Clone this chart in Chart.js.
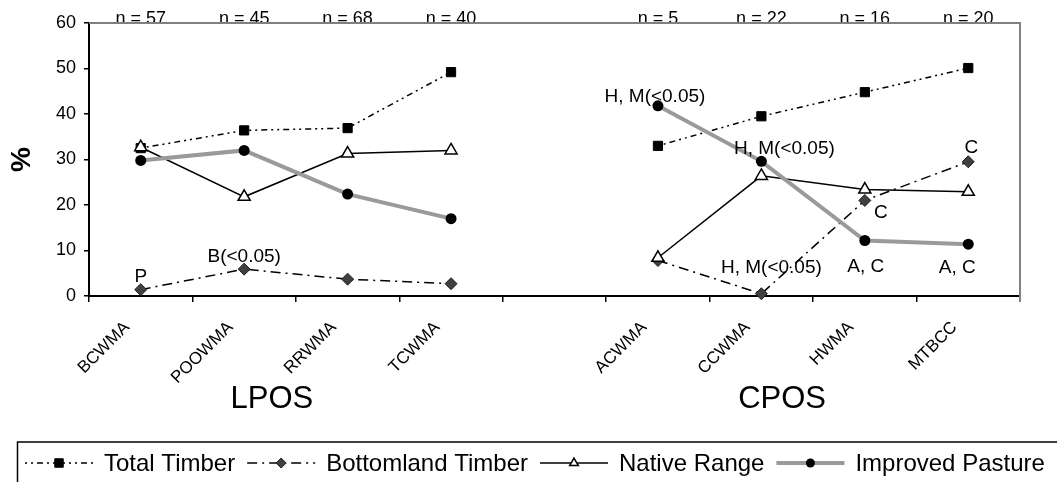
<!DOCTYPE html>
<html><head><meta charset="utf-8">
<script src="https://cdn.jsdelivr.net/npm/chart.js@4"></script>
<style>html,body{margin:0;padding:0;background:#fff;} #wrap{width:1057px;height:482px;position:relative;}</style>
</head><body><div id="wrap"><canvas id="c" width="1057" height="482"></canvas></div>
<script>
// ---------- data ----------
const categories = ['BCWMA','POOWMA','RRWMA','TCWMA','','ACWMA','CCWMA','HWMA','MTBCC'];
const sampleSizes = ['n = 57','n = 45','n = 68','n = 40','','n = 5','n = 22','n = 16','n = 20'];
const groupNames = ['LPOS','CPOS'];
const groupCenters = [1.5, 6.5];
const yTicks = [0,10,20,30,40,50,60];
const seriesNames = ['Total Timber','Bottomland Timber','Native Range','Improved Pasture'];
const totalTimber      = [32.5, 36.4, 36.9, 49.2, null, 33.0, 39.5, 44.8, 50.1];
const bottomlandTimber = [1.4,  5.9,  3.7,  2.7,  null, 7.8,  0.5,  21.0, 29.5];
const nativeRange      = [32.7, 21.8, 31.3, 32.0, null, 8.4,  26.4, 23.4, 22.9];
const improvedPasture  = [29.8, 32.0, 22.4, 17.0, null, 41.8, 29.6, 12.2, 11.4];
const noteTexts  = ['P','B(<0.05)','H, M(<0.05)','H, M(<0.05)','H, M(<0.05)','C','C','A, C','A, C'];
const noteSeries = [1, 1, 3, 3, 1, 1, 1, 3, 3];
const noteCats   = [0, 1, 5, 6, 6, 7, 8, 7, 8];

// ---------- layout / style ----------
const FONT = "'Liberation Sans', Arial, Helvetica, sans-serif";
const noteOffsets = [[0,-14],[0,-13],[-3,-10],[23,-14],[10,-27],[16,11],[3,-15],[1,25],[-11,23]];
const groupOffsets = [-24, -31];

Chart.defaults.font.family = FONT;
Chart.defaults.color = '#000';

function marker(ctx, style, x, y, r, fill, stroke, lw){
  ctx.save();
  ctx.setLineDash([]);
  ctx.fillStyle = fill; ctx.strokeStyle = stroke; ctx.lineWidth = lw;
  ctx.beginPath();
  if (style === 'rect'){ const s = r*Math.SQRT1_2; ctx.rect(x-s, y-s, 2*s, 2*s); }
  else if (style === 'rectRot'){ ctx.moveTo(x-r,y); ctx.lineTo(x,y-r); ctx.lineTo(x+r,y); ctx.lineTo(x,y+r); ctx.closePath(); }
  else if (style === 'triangle'){
    let a = 0; ctx.moveTo(x+Math.sin(a)*r, y-Math.cos(a)*r);
    a += 2*Math.PI/3; ctx.lineTo(x+Math.sin(a)*r, y-Math.cos(a)*r);
    a += 2*Math.PI/3; ctx.lineTo(x+Math.sin(a)*r, y-Math.cos(a)*r); ctx.closePath();
  } else { ctx.arc(x, y, r, 0, Math.PI*2); }
  ctx.fill(); if (lw>0) ctx.stroke();
  ctx.restore();
}

const decor = {
  id: 'decor',
  beforeDatasetsDraw(chart){
    const {ctx, chartArea:a, scales:{x}} = chart;
    ctx.save();
    // sample sizes
    ctx.font = '18px ' + FONT; ctx.fillStyle = '#000';
    ctx.textAlign = 'center'; ctx.textBaseline = 'alphabetic';
    sampleSizes.forEach((t,i)=>{ if(t) ctx.fillText(t, x.getPixelForValue(i), a.top + 0.5); });
    // gray frame top/right
    ctx.strokeStyle = '#808080'; ctx.lineWidth = 2;
    ctx.beginPath(); ctx.moveTo(a.left, a.top); ctx.lineTo(a.right, a.top); ctx.lineTo(a.right, a.bottom + 6); ctx.stroke();
    // rotated category labels
    ctx.font = '17px ' + FONT; ctx.textAlign = 'right'; ctx.textBaseline = 'alphabetic';
    categories.forEach((c,i)=>{
      if(!c) return;
      ctx.save();
      ctx.translate(x.getPixelForValue(i) - 10.5, a.bottom + 32);
      ctx.rotate(-Math.PI/4);
      ctx.fillText(c, 0, 0);
      ctx.restore();
    });
    ctx.restore();
  },
  afterDraw(chart){
    const {ctx, chartArea:a, scales:{x, y}} = chart;
    ctx.save();
    // annotations
    ctx.font = '19px ' + FONT; ctx.fillStyle = '#000';
    ctx.textAlign = 'center'; ctx.textBaseline = 'middle';
    noteTexts.forEach((t,i)=>{
      const ds = chart.data.datasets[noteSeries[i]];
      const v = ds.data[noteCats[i]];
      const px = x.getPixelForValue(noteCats[i]) + noteOffsets[i][0];
      const py = y.getPixelForValue(v) + noteOffsets[i][1];
      ctx.fillText(t, px, py + 1);
    });
    // group labels
    ctx.font = '31px ' + FONT; ctx.textBaseline = 'alphabetic';
    groupNames.forEach((g,i)=>{ ctx.fillText(g, x.getPixelForValue(groupCenters[i]) + groupOffsets[i], 408); });
    // legend
    ctx.strokeStyle = '#000'; ctx.lineWidth = 1.5; ctx.setLineDash([]);
    ctx.strokeRect(17.5, 442, 1100, 60);
    ctx.font = '24px ' + FONT; ctx.textAlign = 'left'; ctx.textBaseline = 'middle';
    let lx = 25; const cy = 463;
    const legR = [6, 5, 5, 4.5];
    seriesNames.forEach((name,i)=>{
      const ds = chart.data.datasets[i];
      ctx.save();
      ctx.strokeStyle = ds.borderColor; ctx.lineWidth = ds.borderWidth;
      ctx.setLineDash(ds.borderDash || []);
      ctx.beginPath(); ctx.moveTo(lx, cy); ctx.lineTo(lx+68, cy); ctx.stroke();
      ctx.restore();
      marker(ctx, ds.pointStyle, lx+34, cy, legR[i], ds.pointBackgroundColor, ds.pointBorderColor, ds.pointBorderWidth);
      ctx.fillStyle = '#000';
      ctx.fillText(name, lx+79, cy + 1);
      lx = lx + 79 + ctx.measureText(name).width + 12;
    });
    ctx.restore();
  }
};

new Chart(document.getElementById('c'), {
  type: 'line',
  data: {
    labels: categories,
    datasets: [
      { label: seriesNames[0], data: totalTimber, borderColor:'#000', borderWidth:1.5, borderDash:[2,4,2,4,6,4],
        pointStyle:'rect', pointRadius:6.5, pointBackgroundColor:'#000', pointBorderColor:'#000', pointBorderWidth:1, order:3 },
      { label: seriesNames[1], data: bottomlandTimber, borderColor:'#000', borderWidth:1.5, borderDash:[10,5,2,5],
        pointStyle:'rectRot', pointRadius:6, pointBackgroundColor:'#404040', pointBorderColor:'#202020', pointBorderWidth:1, order:2 },
      { label: seriesNames[2], data: nativeRange, borderColor:'#000', borderWidth:1.5,
        pointStyle:'triangle', pointRadius:7, pointBackgroundColor:'#fff', pointBorderColor:'#000', pointBorderWidth:1.5, order:1 },
      { label: seriesNames[3], data: improvedPasture, borderColor:'#9a9a9a', borderWidth:4,
        pointStyle:'circle', pointRadius:5.5, pointBackgroundColor:'#000', pointBorderColor:'#000', pointBorderWidth:0, order:0 }
    ].map(d => Object.assign(d, {tension:0, fill:false, spanGaps:false, clip:false, pointHoverRadius:d.pointRadius}))
  },
  options: {
    responsive:false, animation:false, devicePixelRatio:1,
    layout:{ padding:{ left:0, right:37, top:23, bottom:0 } },
    plugins:{ legend:{display:false}, tooltip:{enabled:false} },
    scales:{
      x:{
        type:'category', offset:true,
        grid:{ display:true, drawOnChartArea:false, drawTicks:true, tickLength:6, offset:true, color:'#000', lineWidth:1.5 },
        border:{ display:true, color:'#000', width:2 },
        ticks:{ display:false, autoSkip:false },
        afterFit(s){ s.height = 186; }
      },
      y:{
        min:0, max:60,
        afterBuildTicks(s){ s.ticks = yTicks.map(v => ({value:v})); },
        ticks:{ color:'#000', font:{ size:18 }, padding:8 },
        grid:{ drawOnChartArea:false, drawTicks:true, tickLength:5, color:'#000', lineWidth:1.5 },
        border:{ color:'#000', width:2 },
        title:{ display:true, text:'%', color:'#000', font:{ size:28, weight:'bold' }, padding:{ top:5, bottom:0 } },
        afterFit(s){ s.width = 89; }
      }
    }
  },
  plugins:[decor]
});
</script>
</body></html>
